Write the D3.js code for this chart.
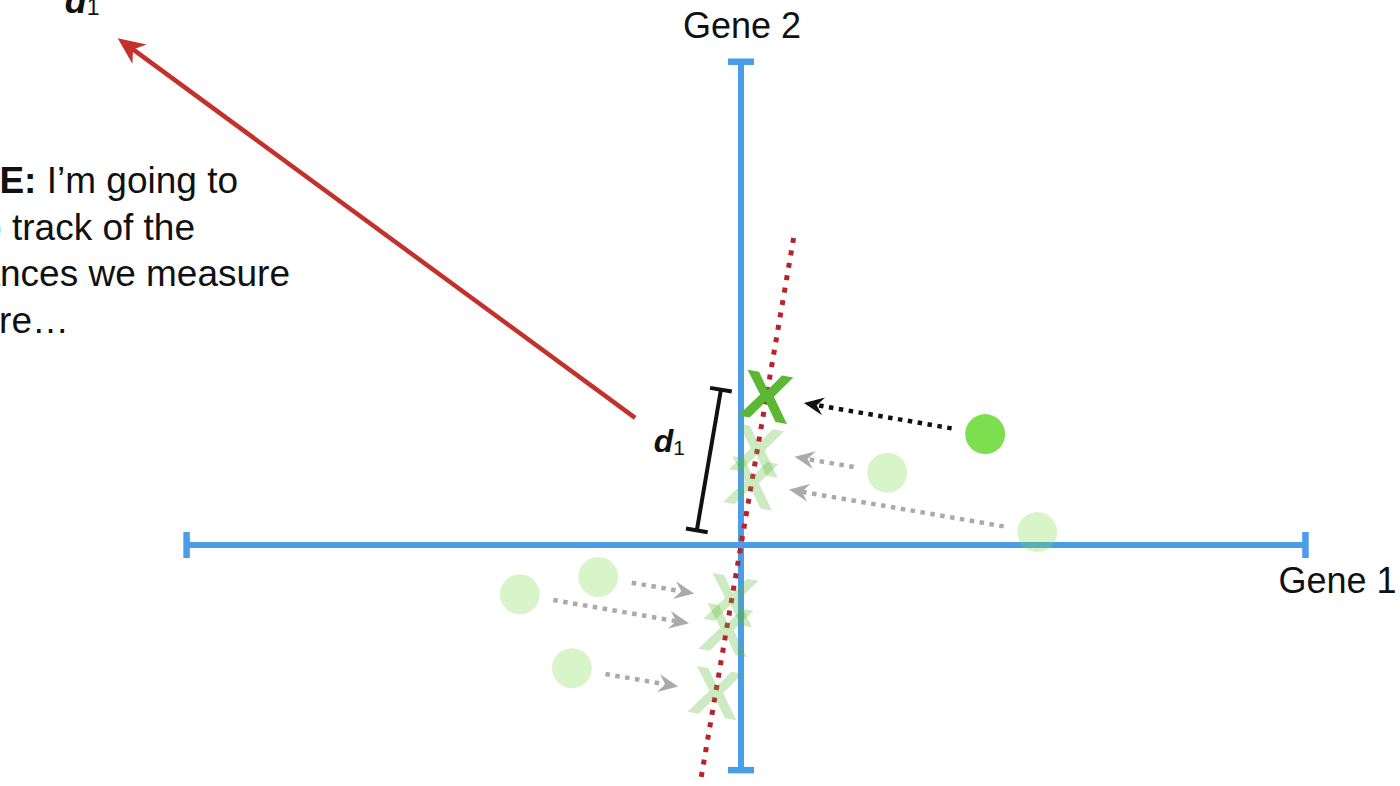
<!DOCTYPE html>
<html>
<head>
<meta charset="utf-8">
<script src="https://cdn.jsdelivr.net/npm/d3@7"></script>
<style>
  body { margin: 0; background: #fff; overflow: hidden; }
  svg { display: block; font-family: "Liberation Sans", Arial, Helvetica, sans-serif; }
</style>
</head>
<body>
<svg id="chart" width="1400" height="786"></svg>
<script>
// data points (gene 1, gene 2)
const gene1 = [4.36, 2.61, 5.29, -3.95, -2.55, -3.02];
const gene2 = [1.98, 1.29, 0.23, -0.88, -0.57, -2.20];
const highlighted = 0;

// candidate line through the origin (unit vector) and how far it is drawn
const pc1 = [0.169, 0.986];
const pc1Extent = [-4.2, 5.6];

const gene1Extent = [-9.9, 10.08];
const gene2Extent = [-4.02, 8.63];
const axisLabels = ["Gene 1", "Gene 2"];

// red d1 arrow flying off to the top left
const d1Arrow = [[-1.89, 2.27], [-11.13, 9.05]];

const noteLines = [
  [["NOTE:", true], [" I\u2019m going to", false]],
  [["keep track of the", false]],
  [["distances we measure", false]],
  [["here\u2026", false]],
];
const noteEnds = [238, 195, 290, 69];

const svg = d3.select("#chart");
const width = +svg.attr("width");
const height = +svg.attr("height");

const blue = "#4a9de6";
const green = "#7ddf4f";
const greenX = "#5cb834";
const red = "#c4302c";
const dotRed = "#b8232a";

const xScale = d3.scaleLinear().domain([-10, 10]).range([181, 1301]);
const yScale = d3.scaleLinear().domain([-10, 10]).range([1105, -15]);

const points = gene1.map((g, i) => {
  const t = g * pc1[0] + gene2[i] * pc1[1];
  return { g1: g, g2: gene2[i], t, p1: t * pc1[0], p2: t * pc1[1], hl: i === highlighted };
});

const px = (a, b) => [xScale(a), yScale(b)];

function arrowHead(g, tip, from, len, half, notch, color) {
  const ang = Math.atan2(tip[1] - from[1], tip[0] - from[0]) * 180 / Math.PI;
  g.append("path")
    .attr("d", `M0,0L${-len},${-half}L${-notch},0L${-len},${half}Z`)
    .attr("transform", `translate(${tip[0]},${tip[1]}) rotate(${ang})`)
    .attr("fill", color);
}

// axes
const axes = svg.append("g");
const x0 = xScale(0), y0 = yScale(0);
const cap = 13;
axes.append("line")
  .attr("x1", xScale(gene1Extent[0])).attr("x2", xScale(gene1Extent[1]))
  .attr("y1", y0).attr("y2", y0)
  .attr("stroke", blue).attr("stroke-width", 6);
axes.append("line")
  .attr("x1", x0).attr("x2", x0)
  .attr("y1", yScale(gene2Extent[0])).attr("y2", yScale(gene2Extent[1]))
  .attr("stroke", blue).attr("stroke-width", 6);
gene1Extent.forEach((v) => {
  axes.append("line")
    .attr("x1", xScale(v)).attr("x2", xScale(v))
    .attr("y1", y0 - cap).attr("y2", y0 + cap)
    .attr("stroke", blue).attr("stroke-width", 6.5);
});
gene2Extent.forEach((v) => {
  axes.append("line")
    .attr("x1", x0 - cap).attr("x2", x0 + cap)
    .attr("y1", yScale(v)).attr("y2", yScale(v))
    .attr("stroke", blue).attr("stroke-width", 6.5);
});
axes.append("text")
  .text(axisLabels[0])
  .attr("x", xScale(gene1Extent[1]) - 27).attr("y", y0 + 48)
  .attr("font-size", 36).attr("fill", "#111");
axes.append("text")
  .text(axisLabels[1])
  .attr("x", x0 + 1).attr("y", yScale(gene2Extent[1]) - 24)
  .attr("text-anchor", "middle")
  .attr("font-size", 36).attr("fill", "#111");

// dotted red line
svg.append("line")
  .attr("x1", xScale(pc1Extent[0] * pc1[0])).attr("y1", yScale(pc1Extent[0] * pc1[1]))
  .attr("x2", xScale(pc1Extent[1] * pc1[0])).attr("y2", yScale(pc1Extent[1] * pc1[1]))
  .attr("stroke", dotRed).attr("stroke-width", 5)
  .attr("stroke-dasharray", "5 7.6");

// projected X marks
const angle = Math.atan2(pc1[0], pc1[1]) * 180 / Math.PI;
const xg = svg.append("g");
points.slice().sort((a, b) => a.hl - b.hl).forEach((d) => {
  const [cx, cy] = px(d.p1, d.p2);
  xg.append("text")
    .text("X")
    .attr("x", 0).attr("y", 0)
    .attr("transform", `translate(${cx},${cy}) rotate(${angle}) scale(1.12,1)`)
    .attr("text-anchor", "middle")
    .attr("dominant-baseline", "central")
    .attr("font-size", 68)
    .attr("font-weight", "bold")
    .attr("fill", greenX)
    .attr("fill-opacity", d.hl ? 1 : 0.3);
});

// dotted arrows from points towards their projection
const ag = svg.append("g");
points.forEach((d) => {
  const a = px(d.g1, d.g2);
  const b = px(d.p1, d.p2);
  const dx = b[0] - a[0], dy = b[1] - a[1];
  const L = Math.hypot(dx, dy);
  const ux = dx / L, uy = dy / L;
  const start = [a[0] + ux * 34, a[1] + uy * 34];
  const tip = [b[0] - ux * 38, b[1] - uy * 38];
  const col = d.hl ? "#111" : "#aaa";
  ag.append("line")
    .attr("x1", start[0]).attr("y1", start[1])
    .attr("x2", tip[0] - ux * 12).attr("y2", tip[1] - uy * 12)
    .attr("stroke", col).attr("stroke-width", 4.5)
    .attr("stroke-dasharray", "4.5 5.5");
  arrowHead(ag, tip, start, 20, 9, 13, col);
});

// points
svg.append("g").selectAll("circle")
  .data(points)
  .join("circle")
  .attr("cx", (d) => xScale(d.g1))
  .attr("cy", (d) => yScale(d.g2))
  .attr("r", 20)
  .attr("fill", green)
  .attr("fill-opacity", (d) => (d.hl ? 1 : 0.3));

// d1 measurement bar alongside the line
const hl = points[highlighted];
const u = [pc1[0], -pc1[1]];
const n = [-pc1[1], -pc1[0]];
const off = 46;
const tA = 7, tB = hl.t * 56 - 1;
const barA = [x0 + u[0] * tA + n[0] * off, y0 + u[1] * tA + n[1] * off];
const barB = [x0 + u[0] * tB + n[0] * off, y0 + u[1] * tB + n[1] * off];
const bar = svg.append("g").attr("stroke", "#111").attr("stroke-width", 4);
bar.append("line").attr("x1", barA[0]).attr("y1", barA[1]).attr("x2", barB[0]).attr("y2", barB[1]);
[barA, barB].forEach((p) => {
  bar.append("line")
    .attr("x1", p[0] - n[0] * 11).attr("y1", p[1] - n[1] * 11)
    .attr("x2", p[0] + n[0] * 11).attr("y2", p[1] + n[1] * 11);
});
const mid = [(barA[0] + barB[0]) / 2, (barA[1] + barB[1]) / 2];
const lbl = svg.append("text")
  .attr("x", mid[0] - 24).attr("y", mid[1] - 8)
  .attr("text-anchor", "end")
  .attr("fill", "#111");
lbl.append("tspan").text("d").attr("font-size", 32).attr("font-weight", "bold").attr("font-style", "italic");
lbl.append("tspan").text("1").attr("font-size", 21).attr("dy", 3);

// red d1 arrow
const rA = px(d1Arrow[0][0], d1Arrow[0][1]);
const rB = px(d1Arrow[1][0], d1Arrow[1][1]);
const rL = Math.hypot(rB[0] - rA[0], rB[1] - rA[1]);
const rg = svg.append("g");
rg.append("line")
  .attr("x1", rA[0]).attr("y1", rA[1])
  .attr("x2", rB[0] - (rB[0] - rA[0]) / rL * 16).attr("y2", rB[1] - (rB[1] - rA[1]) / rL * 16)
  .attr("stroke", red).attr("stroke-width", 4.5);
arrowHead(rg, rB, rA, 27, 12, 19, red);
const topLbl = svg.append("text")
  .attr("x", rB[0] - 53).attr("y", 13)
  .attr("fill", "#111");
topLbl.append("tspan").text("d").attr("font-size", 36).attr("font-weight", "bold").attr("font-style", "italic");
topLbl.append("tspan").text("1").attr("font-size", 23).attr("dy", 2);

// note text, cut off at the left edge
const note = svg.append("g").attr("fill", "#111").attr("font-size", 37);
noteLines.forEach((parts, i) => {
  const t = note.append("text")
    .attr("x", noteEnds[i]).attr("y", 193 + i * 46.5)
    .attr("text-anchor", "end");
  parts.forEach(([s, b]) => {
    t.append("tspan").text(s).attr("font-weight", b ? "bold" : "normal");
  });
});
</script>
</body>
</html>
